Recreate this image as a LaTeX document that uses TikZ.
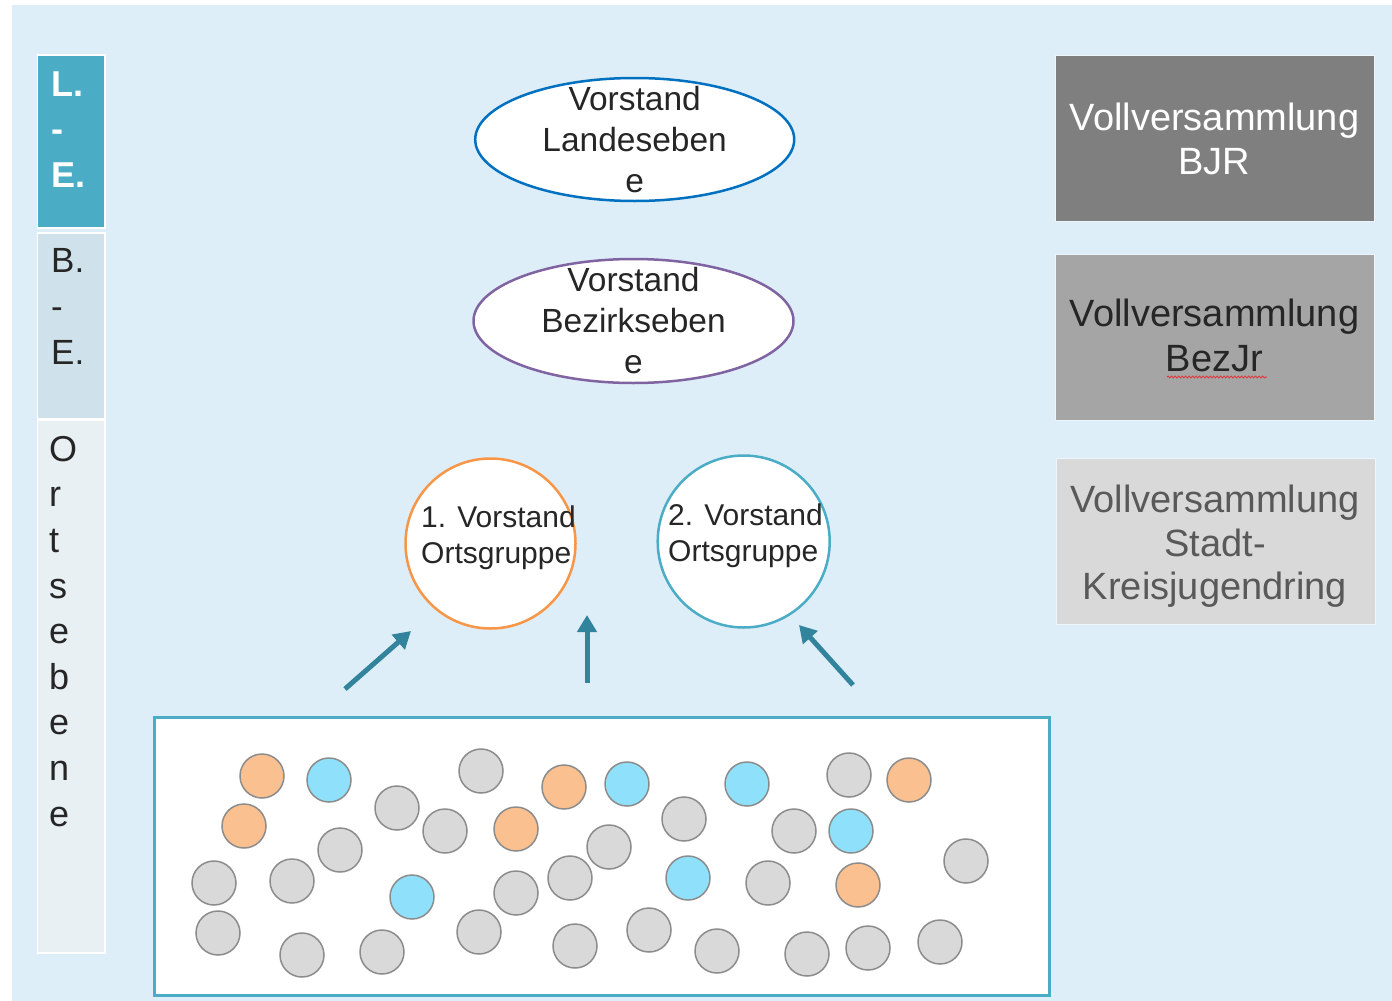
\documentclass[tikz,border=0pt]{standalone}
\usepackage{fontspec}
\setmainfont{Liberation Sans}
\usetikzlibrary{shapes.geometric,arrows.meta,decorations.pathmorphing}
\definecolor{bgblue}{HTML}{DEEEF8}
\definecolor{tealbox}{HTML}{4BACC6}
\definecolor{bebox}{HTML}{CFE1EA}
\definecolor{orbox}{HTML}{E8F0F4}
\definecolor{txt}{HTML}{262626}
\definecolor{landblue}{HTML}{0070C0}
\definecolor{bezpurple}{HTML}{8064A2}
\definecolor{orstroke}{HTML}{F79646}
\definecolor{arrteal}{HTML}{31849B}
\definecolor{gbox1}{HTML}{7F7F7F}
\definecolor{gbox2}{HTML}{A5A5A5}
\definecolor{gbox3}{HTML}{D9D9D9}
\definecolor{gtext3}{HTML}{595959}
\definecolor{gy}{HTML}{D9D9D9}
\definecolor{og}{HTML}{FAC090}
\definecolor{bl}{HTML}{8FE1FB}
\definecolor{dotline}{HTML}{8C8C8C}
\definecolor{spellred}{HTML}{E0393E}
\begin{document}
\begin{tikzpicture}[x=1pt,y=-1pt,
  colbox/.style={draw=white, line width=1.5, inner sep=0, minimum width=67.5, anchor=north west},
  coltext/.style={anchor=north west, inner sep=0, align=left},
  ovalbox/.style={ellipse, fill=white, line width=2.5, inner sep=0},
  ovaltext/.style={inner sep=0, align=center, text=txt, font=\fontsize{33.5}{41}\selectfont},
  roundbox/.style={circle, fill=white, line width=2.5, inner sep=0, minimum size=170},
  roundtext/.style={anchor=west, inner sep=0, align=left, text=txt, font=\fontsize{30}{36}\selectfont},
  vvbox/.style={inner sep=0, minimum width=319, minimum height=166, draw=white!40!bgblue, line width=1},
  vvtext/.style={inner sep=0, align=center, font=\fontsize{38}{44.5}\selectfont},
  arr/.style={draw=arrteal, line width=5, -{Triangle[length=17, width=19]}},
  dot/.style={circle, draw=dotline, line width=1.5, inner sep=0, minimum size=44}
]
\useasboundingbox (0,0) rectangle (1392,1001);
\fill[white] (0,0) rectangle (1392,1001);
\fill[bgblue] (12,5) rectangle (1392,1001);

% left column
\node[colbox, fill=tealbox, minimum height=173] (le) at (36.5,54) {};
\node[colbox, fill=bebox, minimum height=186] (be) at (36.5,232) {};
\node[colbox, fill=orbox, minimum height=533] (oe) at (36.5,419) {};
\node[coltext, text=white, font=\bfseries\fontsize{36}{45.7}\selectfont] (letxt) at (51.5,71.2) {L.\\-\\E.};
\node[coltext, text=txt, font=\fontsize{35}{46}\selectfont] (betxt) at (51,248) {B.\\-\\E.};
\node[coltext, text=txt, font=\fontsize{36}{45.6}\selectfont] (oetxt) at (49,436) {O\\r\\t\\s\\e\\b\\e\\n\\e};

% ellipses
\node[ovalbox, draw=landblue, minimum width=319, minimum height=123] (land) at (634.7,139.5) {};
\node[ovaltext] (landtxt) at (634.7,139.5) {Vorstand\\Landeseben\\e};
\node[ovalbox, draw=bezpurple, minimum width=320, minimum height=124] (bez) at (633.5,321) {};
\node[ovaltext] (beztxt) at (633.5,320.8) {Vorstand\\Bezirkseben\\e};

% circles
\node[roundbox, draw=orstroke] (og1) at (490.5,543.5) {};
\node[roundtext] (og1txt) at (421,538) {1. Vorstand\\Ortsgruppe};
\node[roundbox, draw=tealbox, minimum size=172] (og2) at (743.7,541.5) {};
\node[roundtext] (og2txt) at (668,536) {2. Vorstand\\Ortsgruppe};

% arrows
\coordinate (a1s) at (345,689);
\coordinate (a1e) at (411,631);
\coordinate (a2s) at (587,683);
\coordinate (a2e) at (587,615);
\coordinate (a3s) at (853,685);
\coordinate (a3e) at (799,625);
\draw[arr] (a1s) -- (a1e);
\draw[arr] (a2s) -- (a2e);
\draw[arr] (a3s) -- (a3e);

% member box
\node[draw=tealbox, fill=white, line width=3, inner sep=0, minimum width=895, minimum height=278, anchor=north west] (members) at (153,716) {};
\foreach \px/\py/\c [count=\i] in {262/776/og, 329/780/bl, 481/771/gy, 564/787/og, 627/784/bl, 747/784/bl, 849/775/gy, 909/780/og, 244/826/og, 397/808/gy, 445/831/gy, 516/829/og, 609/847/gy, 684/819/gy, 794/831/gy, 851/831/bl, 340/850/gy, 214/883/gy, 292/881/gy, 412/897/bl, 516/893/gy, 570/878/gy, 688/878/bl, 768/883/gy, 858/885/og, 966/861/gy, 218/933/gy, 302/955/gy, 382/952/gy, 479/932/gy, 575/946/gy, 649/930/gy, 717/951/gy, 807/954/gy, 868/948/gy, 940/942/gy}
  \node[dot, fill=\c] (d\i) at (\px,\py) {};

% right boxes
\node[vvbox, fill=gbox1] (vv1) at (1214.5,138) {};
\node[vvtext, text=white] (vv1txt) at (1214.5,138.9) {Vollversammlung\\BJR};
\node[vvbox, fill=gbox2] (vv2) at (1214.5,337) {};
\node[vvtext, text=txt] (vv2txt) at (1214.5,335.3) {Vollversammlung\\BezJr};
\draw[spellred, line width=1, decorate, decoration={snake, segment length=3.5, amplitude=0.9}] (1167,377) -- (1267,377);
\node[vvbox, fill=gbox3] (vv3) at (1216,541) {};
\node[vvtext, text=gtext3, font=\fontsize{38}{43.5}\selectfont] (vv3txt) at (1215,546.3) {Vollversammlung\\Stadt-\\Kreisjugendring};
\end{tikzpicture}
\end{document}
